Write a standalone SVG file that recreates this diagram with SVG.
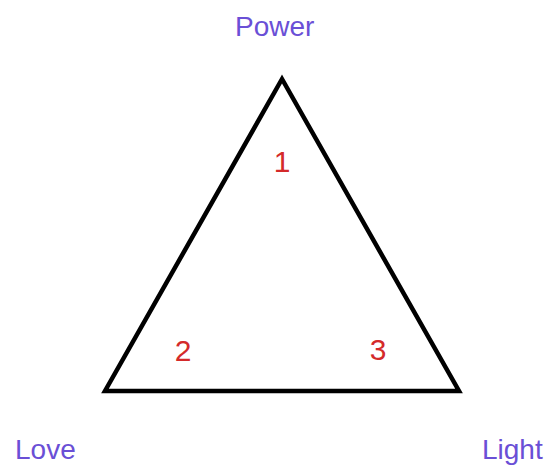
<svg xmlns="http://www.w3.org/2000/svg" width="553" height="467" viewBox="0 0 553 467">
<style>
.lbl{font-family:"Liberation Sans",Arial,sans-serif;font-size:28px;fill:#6a4fd6}
.num{font-family:"Liberation Sans",Arial,sans-serif;font-size:30px;fill:#d42a2a;text-anchor:middle}
</style>
<rect width="553" height="467" fill="#ffffff"/>
<g id="connectors">
<polygon points="282,79 105,391 459,391" fill="none" stroke="#000" stroke-width="4.5" stroke-linejoin="miter"/>
</g>
<g id="power"><text class="lbl" x="235" y="36">Power</text></g>
<g id="love"><text class="lbl" x="15" y="459">Love</text></g>
<g id="light"><text class="lbl" x="482" y="459">Light</text></g>
<g id="n1"><text class="num" x="282" y="172">1</text></g>
<g id="n2"><text class="num" x="183" y="361">2</text></g>
<g id="n3"><text class="num" x="378" y="360">3</text></g>
</svg>
